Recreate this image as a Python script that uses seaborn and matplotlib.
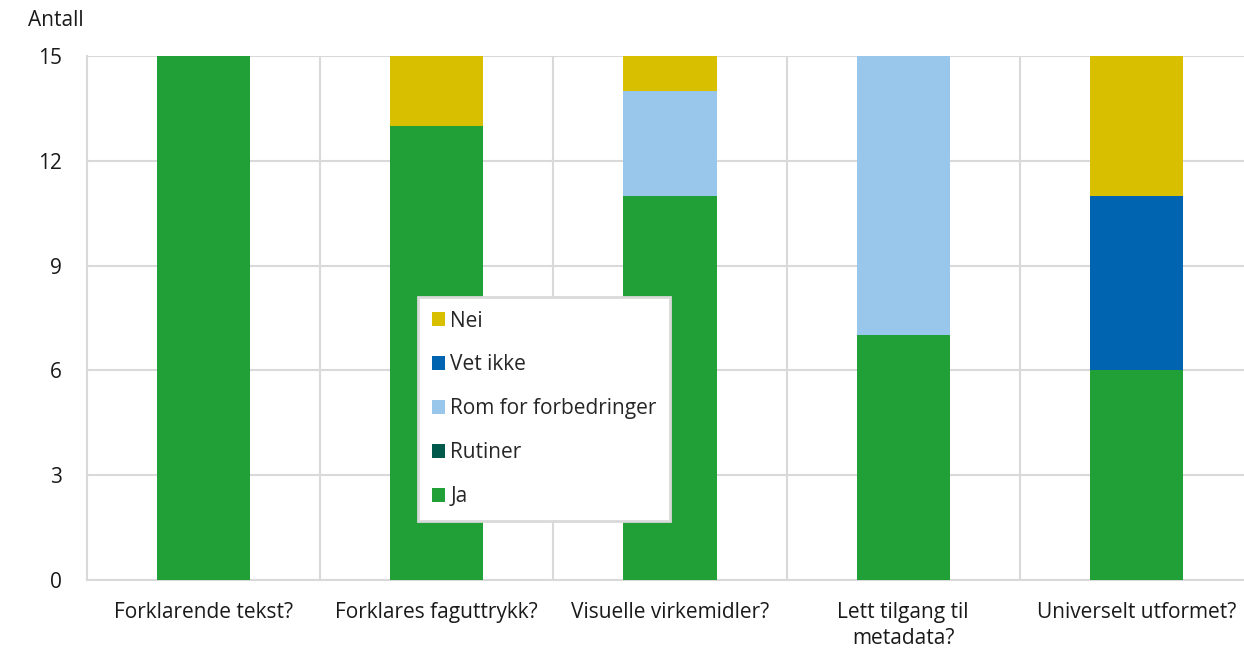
import matplotlib
matplotlib.use("Agg")
from matplotlib import pyplot as plt
import seaborn as sns
import numpy as np

# data
categories = ["Forklarende tekst?", "Forklares faguttrykk?",
              "Visuelle virkemidler?", "Lett tilgang til\nmetadata?",
              "Universelt utformet?"]
ja = [15, 13, 11, 7, 6]
rutiner = [0, 0, 0, 0, 0]
rom = [0, 0, 3, 8, 0]
vet_ikke = [0, 0, 0, 0, 5]
nei = [0, 2, 1, 0, 4]

series = [("Ja", ja, "#21a038"),
          ("Rutiner", rutiner, "#00594a"),
          ("Rom for forbedringer", rom, "#98c7eb"),
          ("Vet ikke", vet_ikke, "#0064b0"),
          ("Nei", nei, "#d8bf00")]

sns.set_style("white")
plt.rcParams["font.family"] = ["Open Sans", "DejaVu Sans"]
plt.rcParams["font.size"] = 15

fig = plt.figure(figsize=(12.44, 6.57), dpi=100)
ax = fig.add_axes([87 / 1244, 1 - 580 / 657, 1157 / 1244, 524 / 657])

# stablede soyler
bottom = np.zeros(len(categories))
for name, vals, col in series:
    sns.barplot(x=categories, y=vals, bottom=bottom, color=col, width=0.4,
                saturation=1, label=name, ax=ax, zorder=3, linewidth=0)
    bottom += np.array(vals)

ax.set_ylim(0, 15)
ax.set_xlim(-0.5, 4.5 - 9 / 233.3)
ax.set_yticks(range(0, 16, 3))
ax.set_xticks(range(len(categories)))
ax.set_xticklabels(categories, fontsize=15, color="#1a1a1a", linespacing=1.3)
ax.tick_params(axis="y", labelsize=15, colors="#1a1a1a", length=0, pad=18)
ax.tick_params(axis="x", length=0, pad=16)

# gitter
ax.yaxis.grid(True, color="#d9d9d9", linewidth=1.5, zorder=0)
for xv in np.arange(0.5, 4.5, 1.0):
    ax.axvline(xv, color="#d9d9d9", linewidth=1.5, zorder=0)
for s in ["top", "right"]:
    ax.spines[s].set_visible(False)
for s in ["left", "bottom"]:
    ax.spines[s].set_color("#d9d9d9")
    ax.spines[s].set_linewidth(1.5)

fig.text(28 / 1244, 1 - 20 / 657, "Antall", fontsize=15, color="#1a1a1a",
         va="center", ha="left")

handles, labels = ax.get_legend_handles_labels()
leg = ax.legend(handles[::-1], labels[::-1], loc="upper left",
                bbox_to_anchor=(418 / 1244, 1 - 297 / 657),
                bbox_transform=fig.transFigure, fontsize=15,
                frameon=True, fancybox=False, framealpha=1,
                handlelength=0.65, handleheight=0.65, handletextpad=0.25,
                labelspacing=1.1, borderpad=0.65, borderaxespad=0)
leg.get_frame().set_edgecolor("#d9d9d9")
leg.get_frame().set_linewidth(2)
leg.set_zorder(5)

plt.savefig("out.png", dpi=100)
